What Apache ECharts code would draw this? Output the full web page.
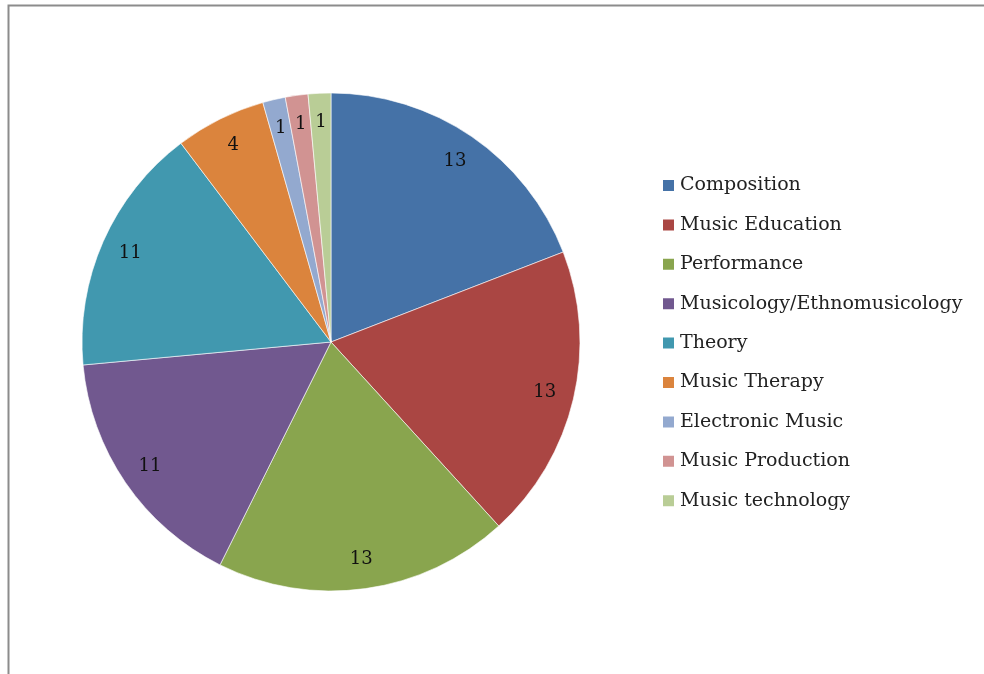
<!DOCTYPE html>
<html>
<head>
<meta charset="utf-8">
<script src="https://cdn.jsdelivr.net/npm/echarts@6/dist/echarts.min.js"></script>
<style>
  html, body { margin: 0; padding: 0; background: #fff; }
  #chart { width: 984px; height: 674px; }
</style>
</head>
<body>
<div id="chart"></div>
<script>
// categories and counts
var categories = ['Composition', 'Music Education', 'Performance', 'Musicology/Ethnomusicology',
  'Theory', 'Music Therapy', 'Electronic Music', 'Music Production', 'Music technology'];
var counts = [13, 13, 13, 11, 11, 4, 1, 1, 1];
var colors = ['#4572a7', '#aa4643', '#89a54e', '#71588f', '#4198af', '#db843d', '#93a9cf', '#d19392', '#b9cd96'];

var pieData = categories.map(function (name, i) {
  return { name: name, value: counts[i], itemStyle: { color: colors[i] } };
});

var font = '"DejaVu Serif", "Liberation Serif", serif';
var chart = echarts.init(document.getElementById('chart'));

chart.setOption({
  backgroundColor: '#fff',
  animation: false,
  graphic: [{
    type: 'polyline',
    shape: { points: [[8.5, 674], [8.5, 5.5], [984, 5.5]] },
    style: { stroke: '#8c8c8c', lineWidth: 2, fill: null }
  }],
  legend: {
    orient: 'vertical',
    left: 656,
    top: 171,
    itemWidth: 13,
    itemHeight: 13,
    itemGap: 20.4,
    icon: 'rect',
    textStyle: { fontFamily: font, fontSize: 19, color: '#222' },
    data: categories
  },
  series: [{
    // filled slices
    type: 'pie',
    center: [331, 342],
    radius: [0, 249],
    startAngle: 90,
    clockwise: true,
    silent: true,
    label: { show: false },
    labelLine: { show: false },
    itemStyle: { borderColor: '#fff', borderWidth: 0.6 },
    data: pieData
  }, {
    // transparent ring used only to place the value labels near the rim
    type: 'pie',
    center: [331, 342],
    radius: [184, 249],
    startAngle: 90,
    clockwise: true,
    silent: true,
    legendHoverLink: false,
    itemStyle: { color: 'rgba(0,0,0,0)', borderWidth: 0 },
    label: {
      show: true,
      position: 'inside',
      formatter: '{c}',
      fontFamily: font,
      fontSize: 18,
      color: '#111'
    },
    labelLine: { show: false },
    data: categories.map(function (name, i) {
      return { name: name + ' ', value: counts[i] };
    })
  }]
});
</script>
</body>
</html>
